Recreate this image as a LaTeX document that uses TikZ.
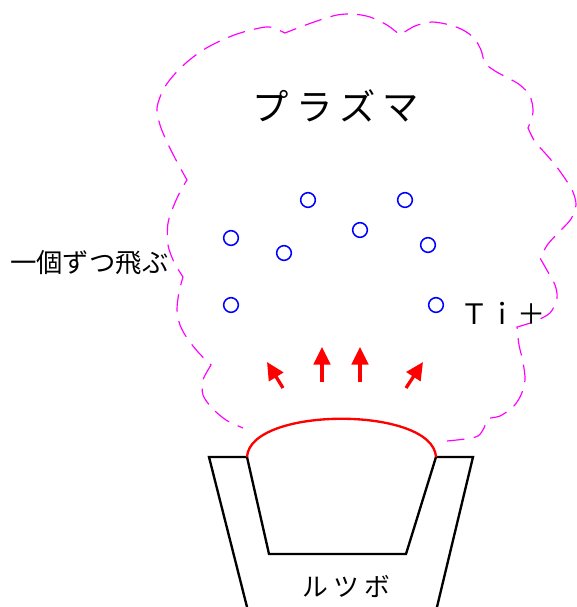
\documentclass[tikz,border=0pt]{standalone}
\usepackage{fontspec}
\usetikzlibrary{arrows.meta}
\newfontfamily\jpfont{Noto Sans CJK JP}
\newfontfamily\jpspaced[LetterSpace=20]{Noto Sans CJK JP}
\definecolor{cloudpink}{RGB}{255,0,255}
\definecolor{ionblue}{RGB}{0,0,255}

\tikzset{
  ion/.style={circle,draw=ionblue,line width=1.3pt,minimum size=0.44cm,inner sep=0pt},
  flow/.style={draw=red,line width=2.8pt,-{Triangle[length=15pt,width=14pt]}},
  wall/.style={line width=2pt},
  melt/.style={draw=red,line width=2pt},
  plasma/.style={draw=cloudpink,line width=1pt,dash pattern=on 15pt off 8pt},
  label/.style={inner sep=0pt,text=black},
}

\begin{document}
\begin{tikzpicture}[x=0.03cm,y=-0.03cm]
\useasboundingbox (0,0) rectangle (576,607);

% plasma cloud, open at the bottom
\draw[plasma] plot[smooth] coordinates {(447,441) (465,439) (478,436) (484,428) (488,419) (500,416) (513,407) (521,395) (525,380) (523,362) (519,345) (517,327)}
  -- plot[smooth] coordinates {(517,327) (533,322) (550,313) (557,298) (555,285) (548,272) (540,258)}
  -- plot[smooth] coordinates {(540,258) (548,244) (560,231) (571,219) (576,205) (573,192) (566,180) (556,166) (545,153) (535,142) (528,128)}
  -- plot[smooth] coordinates {(528,128) (533,112) (530,96) (520,85) (508,78) (495,71) (485,63) (481,50) (474,38) (463,30) (450,25) (432,22) (415,26) (400,35)}
  -- plot[smooth] coordinates {(400,35) (387,25) (370,17) (353,14) (337,15) (320,20) (303,26) (285,33)}
  -- plot[smooth] coordinates {(285,33) (270,27) (255,29) (237,34) (220,41) (203,50) (187,62) (173,76) (163,90) (157,108) (160,125) (167,142) (176,160) (187,180)}
  -- plot[smooth] coordinates {(187,180) (181,190) (174,205) (168,223) (168,245) (174,262) (183,277)}
  -- plot[smooth] coordinates {(183,277) (179,292) (177,310) (180,325) (187,338) (198,352) (211,365)}
  -- plot[smooth] coordinates {(211,365) (203,380) (203,395) (212,408) (226,420) (243,428)};

% labels
\node[label,font=\jpspaced\fontsize{31}{31}\selectfont] (plasmalabel) at (336,106) {プラズマ};
\node[label,font=\jpfont\fontsize{22.5}{22.5}\selectfont,anchor=west] (flylabel) at (10,263) {一個ずつ飛ぶ};
\node[label,font=\jpfont\fontsize{24}{24}\selectfont] (tilabel) at (503,313) {Ｔｉ＋};
\node[label,font=\jpspaced\fontsize{22}{22}\selectfont] (potlabel) at (346,586) {ルツボ};

% Ti ions
\node[ion] (ti1) at (231,238) {};
\node[ion] (ti2) at (308,200) {};
\node[ion] (ti3) at (284,253) {};
\node[ion] (ti4) at (360,230) {};
\node[ion] (ti5) at (405,200) {};
\node[ion] (ti6) at (428,245) {};
\node[ion] (ti7) at (231,305) {};
\node[ion] (ti8) at (436,305) {};

% crucible
\coordinate (cr1) at (247,607);
\coordinate (cr2) at (209,457);
\coordinate (cr3) at (247,457);
\coordinate (cr4) at (269,554);
\coordinate (cr5) at (406,554);
\coordinate (cr6) at (436,457);
\coordinate (cr7) at (473,457);
\coordinate (cr8) at (437,607);
\draw[wall] (cr1) -- (cr2) -- (cr3) -- (cr4) -- (cr5) -- (cr6) -- (cr7) -- (cr8);
\draw[melt] (cr3) .. controls (250,406) and (433,406) .. (cr6);

% evaporation arrows
\coordinate (f1s) at (283,388);
\coordinate (f1e) at (267,362);
\coordinate (f2s) at (322,382);
\coordinate (f2e) at (322,347);
\coordinate (f3s) at (360,382);
\coordinate (f3e) at (360,347);
\coordinate (f4s) at (406,388);
\coordinate (f4e) at (423,362);
\draw[flow] (f1s) -- (f1e);
\draw[flow] (f2s) -- (f2e);
\draw[flow] (f3s) -- (f3e);
\draw[flow] (f4s) -- (f4e);
\end{tikzpicture}
\end{document}
